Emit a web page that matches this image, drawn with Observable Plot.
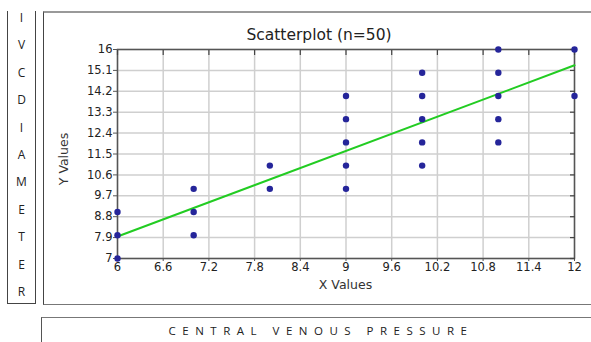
<!DOCTYPE html>
<html>
<head>
<meta charset="utf-8">
<script src="https://cdn.jsdelivr.net/npm/d3@7"></script>
<script src="https://cdn.jsdelivr.net/npm/@observablehq/plot@0.6"></script>
<style>
  html, body { margin: 0; padding: 0; background: #fff; }
  #page { position: relative; width: 591px; height: 342px; overflow: hidden; font-family: "DejaVu Sans", Verdana, sans-serif; }
  .abs { position: absolute; }
  #leftbox { left: 7px; top: 11px; width: 27px; height: 292px; border-left: 1.5px solid #444; border-right: 1.5px solid #444; border-bottom: 1.5px solid #444; }
  #mainbox { left: 43px; top: 11px; width: 560px; height: 291px; border-left: 1.5px solid #444; border-top: 2px solid #999; border-bottom: 1.5px solid #777; }
  #bottombox { left: 41px; top: 317px; width: 560px; height: 40px; border-left: 1.5px solid #555; border-top: 1.5px solid #777; }
  .letter { position: absolute; left: 8px; width: 27px; text-align: center; font-family: "Open Sans", "Noto Sans", sans-serif; font-size: 12px; color: #222; }
  #caption { left: 41px; top: 323px; width: 560px; text-align: center; font-family: "Open Sans", "Noto Sans", sans-serif; font-size: 11.5px; letter-spacing: 6.5px; color: #222; }
  #title { left: 219px; top: 26px; width: 200px; text-align: center; font-size: 15.5px; color: #222; white-space: nowrap; }
  #xlabel { left: 117px; top: 277px; width: 457px; text-align: center; font-size: 12.5px; color: #333; }
  #ylabel { left: 63px; top: 159px; font-size: 12.5px; color: #333; transform: translate(-50%, -50%) rotate(-90deg); white-space: nowrap; }
  #chart { left: 0; top: 0; }
</style>
</head>
<body>
<div id="page">
  <div id="leftbox" class="abs"></div>
  <div id="mainbox" class="abs"></div>
  <div id="bottombox" class="abs"></div>
  <div id="letters"></div>
  <div id="chart" class="abs"></div>
  <div id="title" class="abs"></div>
  <div id="xlabel" class="abs"></div>
  <div id="ylabel" class="abs"></div>
  <div id="caption" class="abs"></div>
</div>
<script>
// ---- data ----
const xValues = [6, 6, 6, 7, 7, 7, 8, 8, 9, 9, 9, 9, 9, 10, 10, 10, 10, 10, 11, 11, 11, 11, 11, 12, 12];
const yValues = [7, 8, 9, 8, 9, 10, 10, 11, 10, 11, 12, 13, 14, 11, 12, 13, 14, 15, 12, 13, 14, 15, 16, 14, 16];
const fitX = [6, 12];
const fitY = [7.95, 15.32];
const xTicks = [6, 6.6, 7.2, 7.8, 8.4, 9, 9.6, 10.2, 10.8, 11.4, 12];
const yTicks = [7, 7.9, 8.8, 9.7, 10.6, 11.5, 12.4, 13.3, 14.2, 15.1, 16];
const xTickLabels = ["6", "6.6", "7.2", "7.8", "8.4", "9", "9.6", "10.2", "10.8", "11.4", "12"];
const yTickLabels = ["7", "7.9", "8.8", "9.7", "10.6", "11.5", "12.4", "13.3", "14.2", "15.1", "16"];
const sideLetters = ["I", "V", "C", "D", "I", "A", "M", "E", "T", "E", "R"];
const titleText = "Scatterplot (n=50)";
const xLabelText = "X Values";
const yLabelText = "Y Values";
const captionText = "CENTRAL VENOUS PRESSURE";

const points = xValues.map((x, i) => ({x, y: yValues[i]}));
const fit = fitX.map((x, i) => ({x, y: fitY[i]}));

const chart = Plot.plot({
  width: 591,
  height: 305,
  marginLeft: 117,
  marginRight: 17,
  marginTop: 49,
  marginBottom: 47,
  style: {background: "transparent", fontFamily: "DejaVu Sans, Verdana, sans-serif", fontSize: "11.5px", color: "#222"},
  x: {domain: [6, 12]},
  y: {domain: [7, 16]},
  marks: [
    Plot.gridX(xTicks, {stroke: "#cfcfcf", strokeOpacity: 1, strokeWidth: 1.5}),
    Plot.gridY(yTicks, {stroke: "#cfcfcf", strokeOpacity: 1, strokeWidth: 1.5}),
    Plot.frame({stroke: "#555", strokeWidth: 1.5}),
    Plot.axisX(xTicks, {anchor: "bottom", tickSize: 3, tickPadding: 1, tickFormat: (d, i) => xTickLabels[i], label: null, stroke: "#555", fill: "#222"}),
    Plot.axisX(xTicks, {anchor: "top", tickSize: -5, text: null, label: null, stroke: "#444", strokeWidth: 1.2}),
    Plot.axisY(yTicks, {anchor: "left", tickSize: 4, tickPadding: 1, tickFormat: (d, i) => yTickLabels[i], label: null, stroke: "#555", fill: "#222"}),
    Plot.axisY(yTicks, {anchor: "right", tickSize: -5, text: null, label: null, stroke: "#444", strokeWidth: 1.2}),
    Plot.line(fit, {x: "x", y: "y", stroke: "#22cc22", strokeWidth: 2}),
    Plot.dot(points, {x: "x", y: "y", r: 3.2, fill: "#25259a", stroke: "none"})
  ]
});
document.getElementById("chart").appendChild(chart);

document.getElementById("title").textContent = titleText;
document.getElementById("xlabel").textContent = xLabelText;
document.getElementById("ylabel").textContent = yLabelText;
document.getElementById("caption").textContent = captionText;

const lettersDiv = document.getElementById("letters");
sideLetters.forEach((ch, i) => {
  const d = document.createElement("div");
  d.className = "letter";
  d.style.top = (9 + i * 27.4) + "px";
  d.textContent = ch;
  lettersDiv.appendChild(d);
});
</script>
</body>
</html>
